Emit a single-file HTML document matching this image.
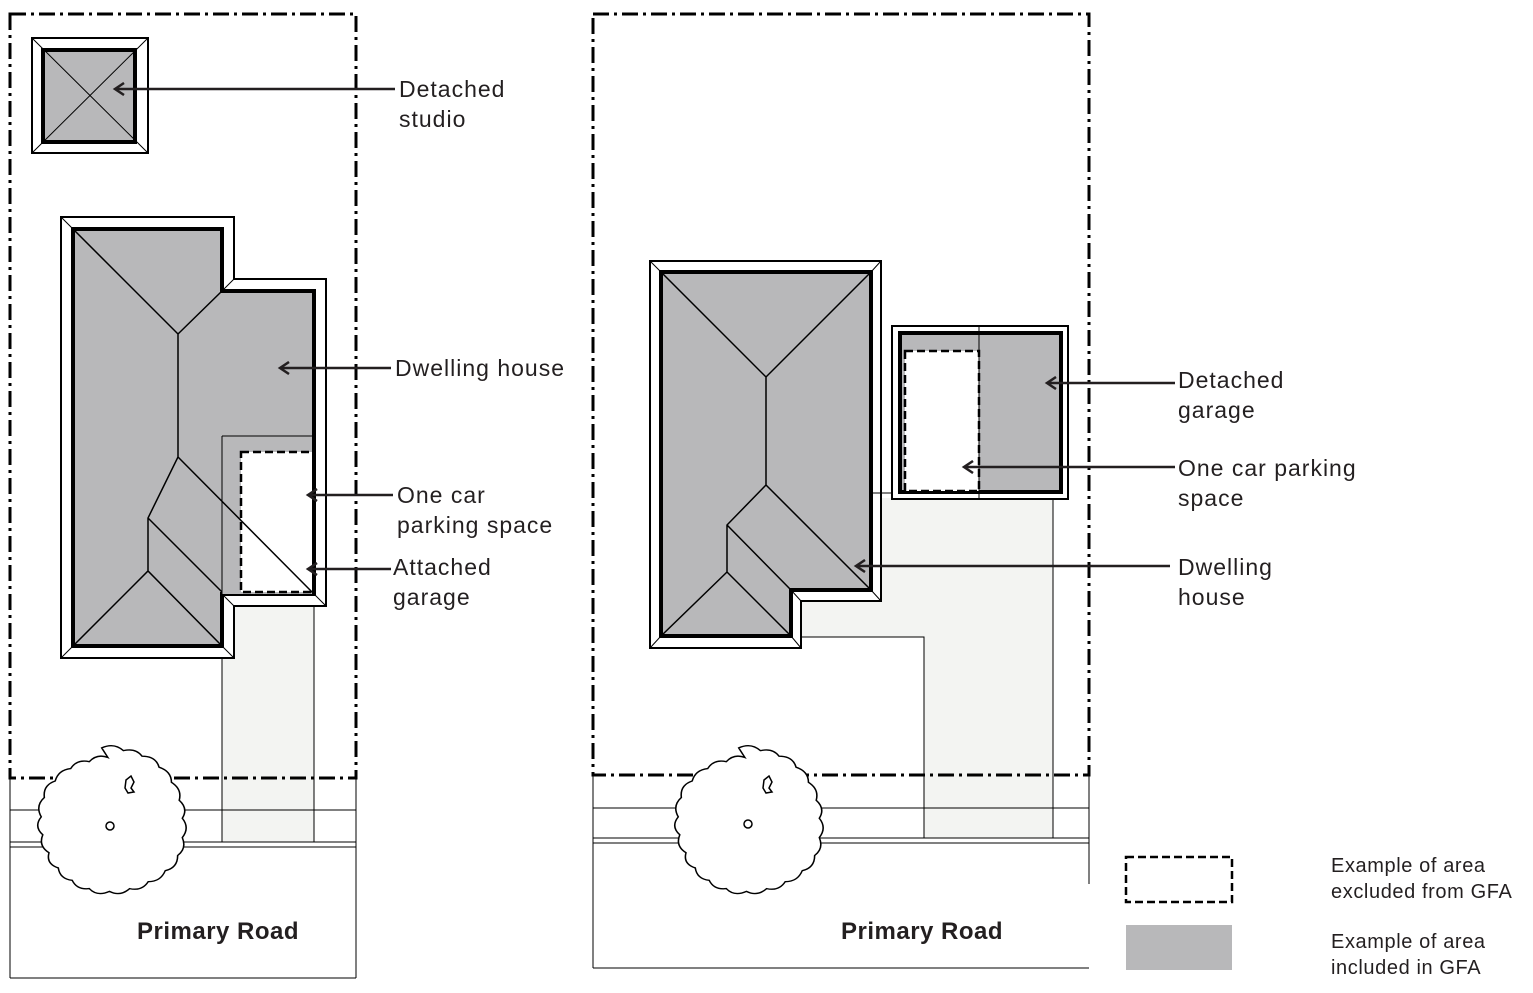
<!DOCTYPE html>
<html><head><style>
html,body{margin:0;padding:0;background:#fff}
svg{display:block}
text{font-family:"Liberation Sans",sans-serif;fill:#231f20}
</style></head><body>
<svg width="1533" height="993" viewBox="0 0 1533 993" xmlns="http://www.w3.org/2000/svg">
<defs>
<marker id="ah" markerWidth="14" markerHeight="14" refX="10" refY="7" orient="auto" markerUnits="userSpaceOnUse">
<path d="M1,1 L10,7 L1,13" fill="none" stroke="#231f20" stroke-width="2.5"/>
</marker>
<path id="tree" d="M110,752 q8,-4 14,2 q8,-2 12,4 q9,0 11,8 q8,3 8,11 q7,5 5,13 q6,6 2,13 q5,7 0,14 q3,8 -3,13 q0,9 -8,11 q-3,8 -11,8 q-4,7 -12,5 q-6,6 -13,2 q-8,4 -13,-2 q-8,1 -11,-6 q-8,-1 -9,-9 q-8,-3 -6,-11 q-7,-5 -4,-13 q-6,-6 -1,-13 q-4,-8 2,-14 q-1,-9 7,-12 q2,-8 10,-9 q4,-7 12,-5 q5,-6 12,-3 z"/>
</defs>
<g stroke="#000" fill="none">
<!-- LEFT LOT -->
<rect x="222" y="596" width="92" height="246" fill="#f3f4f2" stroke="none"/>
<line x1="222" y1="596" x2="222" y2="842" stroke-width="1"/>
<line x1="314" y1="596" x2="314" y2="842" stroke-width="1"/>
<line x1="10" y1="810" x2="356" y2="810" stroke-width="1"/>
<line x1="10" y1="842" x2="356" y2="842" stroke-width="1"/>
<line x1="10" y1="847" x2="356" y2="847" stroke-width="1"/>
<line x1="10" y1="778" x2="10" y2="978" stroke-width="1"/>
<line x1="356" y1="778" x2="356" y2="978" stroke-width="1"/>
<line x1="10" y1="978" x2="356" y2="978" stroke-width="1"/>
<rect x="10" y="14" width="346" height="764" stroke-width="3" stroke-dasharray="16,5,3,5"/>
<!-- studio -->
<rect x="32" y="38" width="116" height="115" stroke-width="2" fill="#fff"/>
<rect x="43" y="50" width="92" height="92" stroke-width="4" fill="#b8b8ba"/>
<path d="M32,38 L148,153 M148,38 L32,153" stroke-width="1"/>
<!-- house -->
<path d="M61,217 H234 V279 H326 V606 H234 V658 H61 Z" stroke-width="2" fill="#fff"/>
<path d="M73,229 H222 V291 H314 V594 H222 V646 H73 Z" stroke-width="4" fill="#b8b8ba"/>
<path d="M61,217 L73,229 M234,279 L222,291 M326,606 L314,594 M234,606 L222,594 M61,658 L73,646 M234,658 L222,646" stroke-width="1"/>
<path d="M222,436 H314 V594 H222 Z" fill="#b8b8ba" stroke="none"/>
<path d="M222,436 H314 M222,436 V646" stroke-width="1"/>
<rect x="241" y="452" width="73" height="140" fill="#fff" stroke-width="2.5" stroke-dasharray="8,4"/>
<path d="M73,229 L178,334 L222,291 M178,334 V457 L148,518 V572 M178,457 L314,594 M148,518 L222,592 M73,646 L148,571 L222,646" stroke-width="1.5"/>
<line x1="314" y1="291" x2="314" y2="594" stroke-width="4"/>

<!-- RIGHT LOT -->
<path d="M800,498 H1053 V838 H924 V637 H800 Z" fill="#f3f4f2" stroke="none"/>
<path d="M800,637 H924 V838 M1053,494 V838" stroke-width="1"/>
<line x1="593" y1="808" x2="1089" y2="808" stroke-width="1"/>
<line x1="593" y1="838" x2="1089" y2="838" stroke-width="1"/>
<line x1="593" y1="843" x2="1089" y2="843" stroke-width="1"/>
<line x1="593" y1="775" x2="593" y2="968" stroke-width="1"/>
<line x1="1089" y1="775" x2="1089" y2="884" stroke-width="1"/>
<line x1="593" y1="968" x2="1089" y2="968" stroke-width="1"/>
<rect x="593" y="14" width="496" height="761" stroke-width="3" stroke-dasharray="16,5,3,5"/>
<!-- house -->
<path d="M650,261 H881 V601 H801 V648 H650 Z" stroke-width="2" fill="#fff"/>
<path d="M661,272 H871 V590 H791 V636 H661 Z" stroke-width="4" fill="#b8b8ba"/>
<path d="M650,261 L661,272 M881,261 L871,272 M881,601 L871,590 M801,601 L791,590 M650,648 L661,636 M801,648 L791,636" stroke-width="1"/>
<path d="M661,272 L766,377 L871,272 M766,377 V485 M766,485 L727,525 V572 M766,485 L871,590 M727,525 L791,590 M661,636 L727,572 L791,636" stroke-width="1.5"/>
<line x1="871" y1="493" x2="900" y2="493" stroke-width="1"/>
<!-- garage -->
<rect x="892" y="326" width="176" height="173" stroke-width="2" fill="#fff"/>
<rect x="900" y="333" width="161" height="159" stroke-width="4" fill="#b8b8ba"/>
<rect x="905" y="351" width="74" height="140" fill="#fff" stroke-width="2.5" stroke-dasharray="8,4"/>
<line x1="979" y1="326" x2="979" y2="499" stroke-width="1"/>

<!-- trees -->
<g fill="#fff">
<use href="#tree" transform="translate(111,821) scale(1.55,1.38) translate(-116,-805)" stroke-width="1"/>
<use href="#tree" transform="translate(748,821) scale(1.55,1.38) translate(-116,-805)" stroke-width="1"/>
<g stroke-width="1.5">
<circle cx="110" cy="826" r="4"/>
<circle cx="748" cy="824" r="4"/>
<path d="M126,780 l5,-4 l3,6 l-3,6 l3,4 l-6,1 l-3,-5 z"/>
<path d="M764,780 l5,-4 l3,6 l-3,6 l3,4 l-6,1 l-3,-5 z"/>
</g>
</g>

<!-- arrows -->
<g stroke="#231f20" stroke-width="2.5" marker-end="url(#ah)">
<line x1="395" y1="89" x2="115" y2="89"/>
<line x1="391" y1="368" x2="280" y2="368"/>
<line x1="393" y1="495" x2="308" y2="495"/>
<line x1="391" y1="569" x2="308" y2="569"/>
<line x1="1175" y1="383" x2="1047" y2="383"/>
<line x1="1175" y1="467" x2="964" y2="467"/>
<line x1="1170" y1="566" x2="856" y2="566"/>
</g>

<!-- legend -->
<rect x="1126" y="857" width="106" height="45" stroke-width="2.5" stroke-dasharray="8,4"/>
<rect x="1126" y="925" width="106" height="45" fill="#b8b8ba" stroke="none"/>
</g>

<g font-size="23" letter-spacing="1">
<text x="399" y="97">Detached</text>
<text x="399" y="127">studio</text>
<text x="395" y="376">Dwelling house</text>
<text x="397" y="503">One car</text>
<text x="397" y="533">parking space</text>
<text x="393" y="575">Attached</text>
<text x="393" y="605">garage</text>
<text x="1178" y="388">Detached</text>
<text x="1178" y="418">garage</text>
<text x="1178" y="476">One car parking</text>
<text x="1178" y="506">space</text>
<text x="1178" y="575">Dwelling</text>
<text x="1178" y="605">house</text>
</g>
<g font-size="24" font-weight="bold" letter-spacing="0.5">
<text x="137" y="939">Primary Road</text>
<text x="841" y="939">Primary Road</text>
</g>
<g font-size="20" letter-spacing="0.6">
<text x="1331" y="872">Example of area</text>
<text x="1331" y="898">excluded from GFA</text>
<text x="1331" y="948">Example of area</text>
<text x="1331" y="974">included in GFA</text>
</g>
</svg>
</body></html>
